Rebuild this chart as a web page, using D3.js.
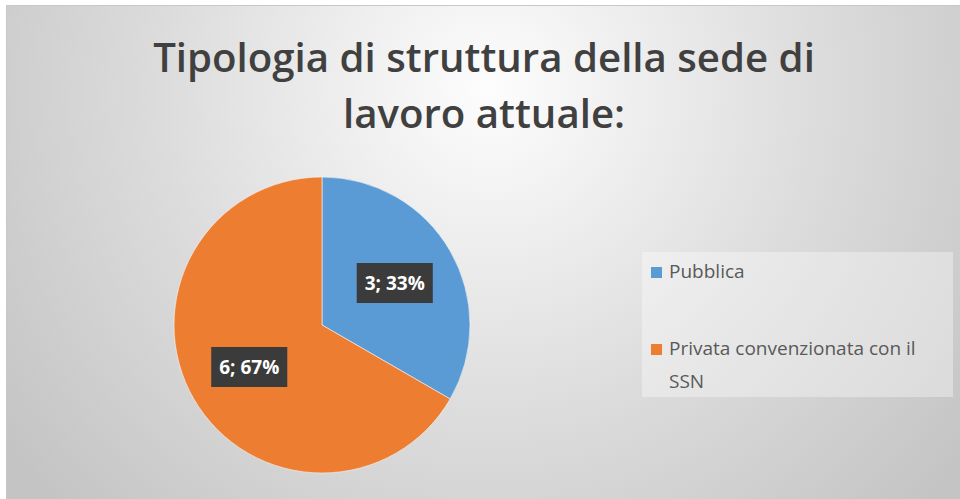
<!DOCTYPE html>
<html>
<head>
<meta charset="utf-8">
<script src="https://cdn.jsdelivr.net/npm/d3@7"></script>
<style>
  body { margin: 0; background: #fff; }
  svg { display: block; }
</style>
</head>
<body>
<div class="chartContainer"></div>
<script>
// data
const categories = ['Pubblica', 'Privata convenzionata con il SSN'];
const values = [3, 6];
const sliceColours = ['#5b9bd5', '#ed7d31'];
const titleLines = ['Tipologia di struttura della sede di', 'lavoro attuale:'];
const legendLines = [['Pubblica'], ['Privata convenzionata con il', 'SSN']];

const width = 960;
const height = 499;

const svg = d3.select('.chartContainer')
  .append('svg')
    .attr('width', width)
    .attr('height', height);

// background: grey radial gradient, light near the title
const defs = svg.append('defs');
const grad = defs.append('radialGradient')
  .attr('id', 'bg')
  .attr('gradientUnits', 'userSpaceOnUse')
  .attr('cx', 490).attr('cy', 90).attr('r', 600);
grad.append('stop').attr('offset', '0%').attr('stop-color', '#fdfdfd');
grad.append('stop').attr('offset', '55%').attr('stop-color', '#dcdcdc');
grad.append('stop').attr('offset', '100%').attr('stop-color', '#c4c4c4');

svg.append('rect')
  .attr('x', 6.5).attr('y', 5.5)
  .attr('width', width).attr('height', height)
  .attr('fill', 'url(#bg)')
  .attr('stroke', '#c8c8c8');

// title, two centred lines, first line sized to the width in the picture
const title = svg.append('g');
titleLines.forEach((line, i) => {
  title.append('text')
    .attr('x', 484)
    .attr('y', 72 + i * 56)
    .attr('text-anchor', 'middle')
    .attr('font-family', 'Open Sans, sans-serif')
    .attr('font-weight', 600)
    .attr('font-size', 36)
    .attr('fill', '#404040')
    .text(line);
});
const firstLen = title.select('text').node().getComputedTextLength();
title.selectAll('text').attr('font-size', 36 * 662 / firstLen);

// pie
const cx = 322, cy = 325, radius = 148;
const pieData = categories.map((c, i) => ({name: c, value: values[i], colour: sliceColours[i]}));
const total = d3.sum(values);

const pie = d3.pie().value(d => d.value).sort(null);
const arc = d3.arc().innerRadius(0).outerRadius(radius);
const labelArc = d3.arc().innerRadius(84).outerRadius(84);

const canvas = svg.append('g')
  .attr('transform', `translate(${cx}, ${cy})`);

canvas.selectAll('path')
  .data(pie(pieData))
  .enter()
  .append('path')
    .attr('d', arc)
    .attr('fill', d => d.data.colour)
    .attr('stroke', '#f6f6f6')
    .attr('stroke-width', 0.6);

// data labels: dark boxes with white bold text
const labels = canvas.selectAll('g.lbl')
  .data(pie(pieData))
  .enter()
  .append('g')
    .attr('class', 'lbl')
    .attr('transform', d => `translate(${labelArc.centroid(d)})`);

labels.each(function (d) {
  const g = d3.select(this);
  const txt = g.append('text')
    .attr('text-anchor', 'middle')
    .attr('dy', '0.35em')
    .attr('font-family', 'Open Sans, sans-serif')
    .attr('font-weight', 'bold')
    .attr('font-size', 19)
    .attr('fill', '#ffffff')
    .text(`${d.data.value}; ${Math.round(d.data.value / total * 100)}%`);
  const w = txt.node().getComputedTextLength();
  g.insert('rect', 'text')
    .attr('x', -w / 2 - 8)
    .attr('y', -20)
    .attr('width', w + 16)
    .attr('height', 40)
    .attr('fill', '#3b3b3b');
});

// legend
const legend = svg.append('g');
legend.append('rect')
  .attr('x', 642).attr('y', 252)
  .attr('width', 311).attr('height', 145)
  .attr('fill', '#ffffff')
  .attr('fill-opacity', 0.35);

const legendY = [278, 355];
legendLines.forEach((lines, i) => {
  legend.append('rect')
    .attr('x', 651).attr('y', legendY[i] - 11)
    .attr('width', 11).attr('height', 11)
    .attr('fill', sliceColours[i]);
  lines.forEach((line, j) => {
    legend.append('text')
      .attr('class', 'leg')
      .attr('x', 669)
      .attr('y', legendY[i] + j * 33)
      .attr('font-family', 'Open Sans, sans-serif')
      .attr('font-size', 16)
      .attr('fill', '#595959')
      .text(line);
  });
});
// widest legend line spans about 269px in the picture
const legLen = d3.max(legend.selectAll('text.leg').nodes(), n => n.getComputedTextLength());
legend.selectAll('text.leg').attr('font-size', Math.min(19, 16 * 269 / legLen));
</script>
</body>
</html>
